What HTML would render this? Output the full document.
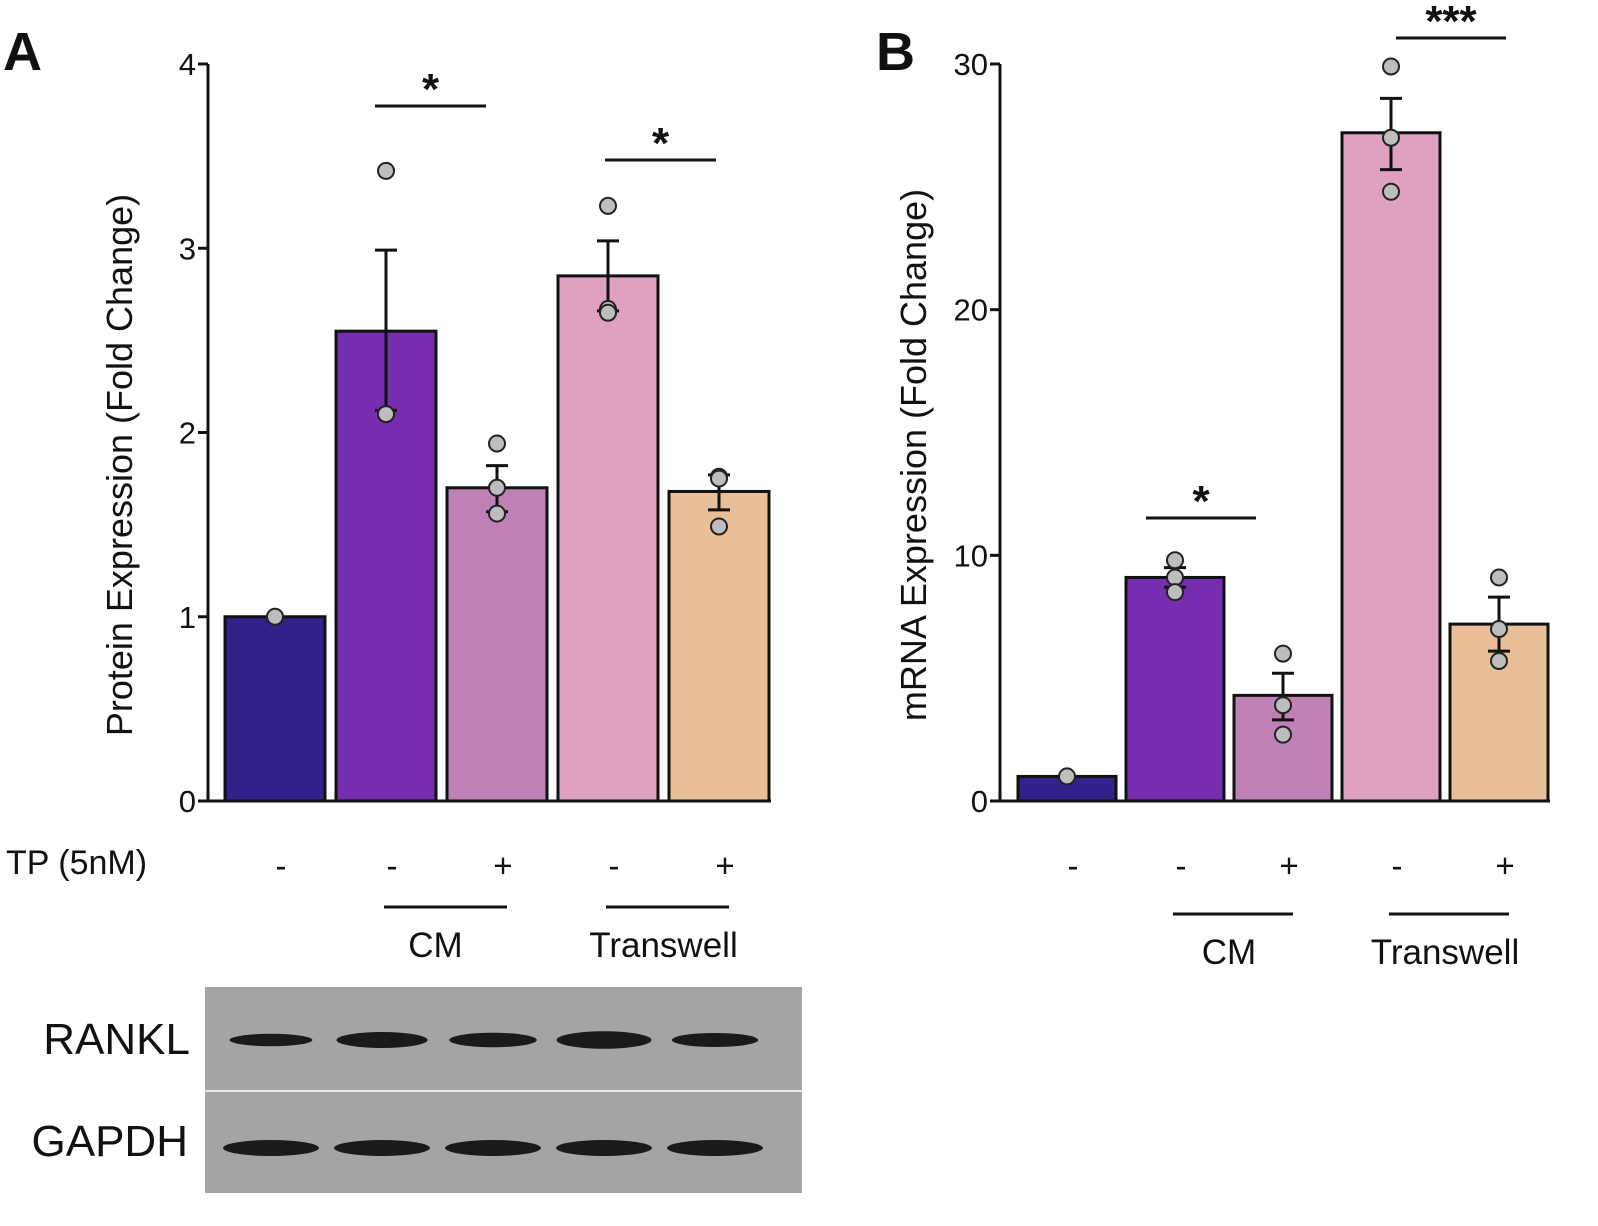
<!DOCTYPE html>
<html><head><meta charset="utf-8"><style>
body{margin:0;background:#fff;}
svg text{font-family:"Liberation Sans",sans-serif;fill:#111;}
</style></head><body>
<svg id="fig" width="1598" height="1221" viewBox="0 0 1598 1221" xmlns="http://www.w3.org/2000/svg">
<text x="3" y="70" font-size="54" font-weight="bold">A</text>
<text x="876" y="70" font-size="54" font-weight="bold">B</text>
<text transform="translate(132,465) rotate(-90)" text-anchor="middle" font-size="36">Protein Expression (Fold Change)</text>
<text transform="translate(926,455) rotate(-90)" text-anchor="middle" font-size="36">mRNA Expression (Fold Change)</text>
<text x="6" y="874" font-size="34">TP (5nM)</text>
<g id="ga"></g><g id="gb"></g>
<g>
<rect x="205" y="987" width="597" height="206" fill="#a4a4a4"/>
<line x1="205" y1="1091" x2="802" y2="1091" stroke="#e8e8e8" stroke-width="2"/>
<g id="bands"></g>
</g>
<text x="190" y="1054" text-anchor="end" font-size="44">RANKL</text>
<text x="188" y="1156" text-anchor="end" font-size="44">GAPDH</text>
</svg>
<script>
const colors=["#31218a","#762daf","#bf80b5","#e0a1c0","#e8bf98"];
const signs=["-","-","+","-","+"];
const aValues=[1.0,2.55,1.70,2.85,1.68];
const aErrHi=[1.0,2.99,1.82,3.04,1.77];
const aErrLo=[1.0,2.12,1.57,2.66,1.58];
const aPoints=[[1.0],[3.42,2.1,2.1],[1.94,1.7,1.56],[3.23,2.67,2.65],[1.76,1.75,1.49]];
const aTicks=[0,1,2,3,4];
const bValues=[1.0,9.1,4.3,27.2,7.2];
const bErrHi=[1.0,9.5,5.2,28.6,8.3];
const bErrLo=[1.0,8.7,3.3,25.7,6.1];
const bPoints=[[1.0],[9.8,9.1,8.5],[6.0,3.9,2.7],[29.9,27.0,24.8],[9.1,7.0,5.7]];
const bTicks=[0,10,20,30];
const ranklBand=[0.45,0.8,0.65,0.95,0.6];
const NS="http://www.w3.org/2000/svg";
function mk(p,tag,at,txt){const e=document.createElementNS(NS,tag);for(const k in at)e.setAttribute(k,at[k]);if(txt!==undefined)e.textContent=txt;p.appendChild(e);return e;}
function panel(g,cfg){
 const y=v=>cfg.y0-(v/cfg.max)*(cfg.y0-cfg.y1);
 const ax=mk(g,'line',{x1:cfg.ax,y1:cfg.y1,x2:cfg.ax,y2:cfg.y0+1,stroke:'#111','stroke-width':3});
 
 
 cfg.ticks.forEach(t=>{
  const l=mk(g,'line',{x1:cfg.ax-10,y1:y(t),x2:cfg.ax,y2:y(t),stroke:'#111','stroke-width':3});
  
  
  const tx=mk(g,'text',{x:cfg.ax-12,y:y(t)+11,'text-anchor':'end','font-size':31},t);
  
  
 });
 const xa=mk(g,'line',{x1:cfg.ax,y1:cfg.y0,x2:cfg.x0+cfg.step*4+cfg.w/2+2,y2:cfg.y0,stroke:'#111','stroke-width':3});
 
 
 cfg.vals.forEach((v,i)=>{
  const cx=cfg.x0+i*cfg.step;
  const r=mk(g,'rect',{x:cx-cfg.w/2,y:y(v),width:cfg.w,height:cfg.y0-y(v),fill:colors[i],stroke:'#111','stroke-width':3});
  
  
  if(cfg.hi[i]!==cfg.lo[i]){
   const e=mk(g,'path',{d:`M${cx},${y(cfg.hi[i])}V${y(cfg.lo[i])}M${cx-11},${y(cfg.hi[i])}H${cx+11}M${cx-11},${y(cfg.lo[i])}H${cx+11}`,stroke:'#111','stroke-width':3,fill:'none'});
   
   
  }
  cfg.pts[i].forEach(p=>{
   const c=mk(g,'circle',{cx:cx,cy:y(p),r:8,fill:'#bdbdbd',stroke:'#222','stroke-width':2});
   
   
  });
  const s=mk(g,'text',{x:cx+6,y:cfg.signY,'text-anchor':'middle','font-size':33},signs[i]);
  
  
 });
 cfg.groups.forEach(gr=>{
  const a=cfg.x0+gr.i*cfg.step, b=cfg.x0+(gr.i+1)*cfg.step;
  const l=mk(g,'line',{x1:a-2,y1:cfg.grpY,x2:b+10,y2:cfg.grpY,stroke:'#111','stroke-width':3});
  
  
  const t=mk(g,'text',{x:(a+b)/2+gr.dx,y:cfg.grpY+50,'text-anchor':'middle','font-size':35},gr.t);
  
  
 });
 cfg.sig.forEach(sg=>{
  const l=mk(g,'line',{x1:sg.a,y1:sg.ly,x2:sg.b,y2:sg.ly,stroke:'#111','stroke-width':3});
  
  
  const t=mk(g,'text',{x:(sg.a+sg.b)/2,y:sg.ly-2,'text-anchor':'middle','font-size':44,'font-weight':'bold'},sg.t);
  
  
 });
}
panel(document.getElementById('ga'),{ax:208,y0:801,y1:64,max:4,ticks:aTicks,x0:275,step:111,w:100,vals:aValues,hi:aErrHi,lo:aErrLo,pts:aPoints,signY:877,grpY:907,
 groups:[{i:1,t:'CM',dx:-6},{i:3,t:'Transwell',dx:0}],sig:[{a:375,b:486,ly:106,t:'*'},{a:605,b:716,ly:160,t:'*'}]});
panel(document.getElementById('gb'),{ax:1000,y0:801,y1:64,max:30,ticks:bTicks,x0:1067,step:108,w:98,vals:bValues,hi:bErrHi,lo:bErrLo,pts:bPoints,signY:877,grpY:914,
 groups:[{i:1,t:'CM',dx:0},{i:3,t:'Transwell',dx:0}],sig:[{a:1146,b:1256,ly:518,t:'*'},{a:1396,b:1506,ly:38,t:'***'}]});
const bands=document.getElementById('bands');
[275,386,497,608,719].forEach((cx,i)=>{
 const b=mk(bands,'ellipse',{cx:cx-4,cy:1040,rx:36+ranklBand[i]*12,ry:4+ranklBand[i]*5,fill:'#1a1a1a'});
 
 
 const c=mk(bands,'ellipse',{cx:cx-4,cy:1148,rx:48,ry:8,fill:'#1a1a1a'});
 
 
});
</script>
</body></html>
